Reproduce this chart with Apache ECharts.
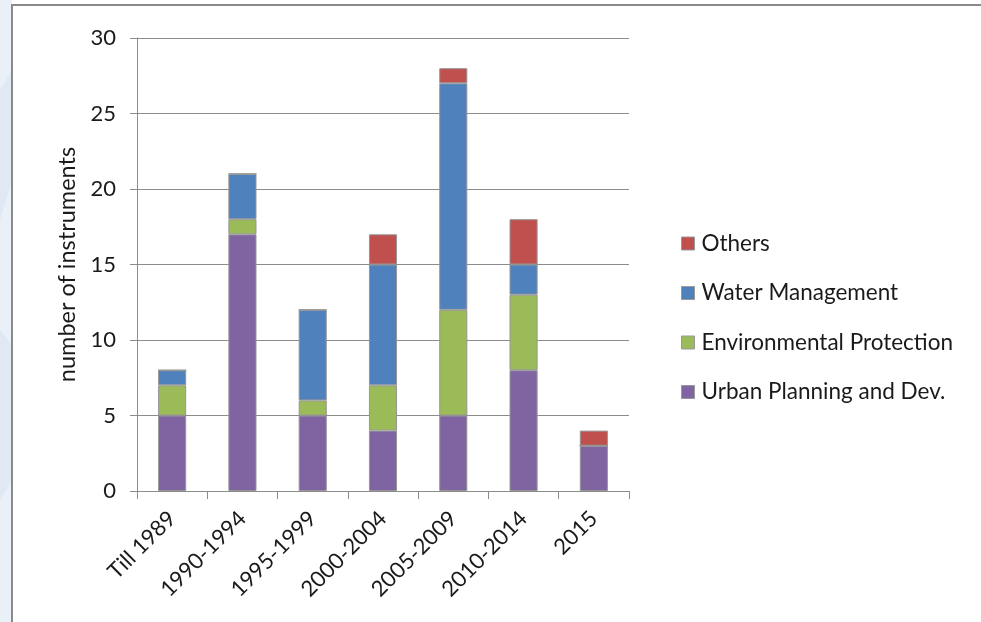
<!DOCTYPE html>
<html>
<head>
<meta charset="utf-8">
<script src="https://cdn.jsdelivr.net/npm/echarts@6/dist/echarts.min.js"></script>
<style>
  html, body { margin: 0; padding: 0; background: #fff; }
  #chart { width: 981px; height: 622px; }
</style>
</head>
<body>
<div id="chart"></div>
<script>
// Periods on the category axis
const periods = ['Till 1989', '1990-1994', '1995-1999', '2000-2004', '2005-2009', '2010-2014', '2015'];

// Number of instruments per thematic area, stacked bottom to top
const urbanPlanning = [5, 17, 5, 4, 5, 8, 3];
const environmental = [2, 1, 1, 3, 7, 5, 0];
const waterManagement = [1, 3, 6, 8, 15, 2, 0];
const others = [0, 0, 0, 2, 1, 3, 1];

const seriesNames = ['Urban Planning and Dev.', 'Environmental Protection', 'Water Management', 'Others'];
const seriesColors = ['#8064a2', '#9bbb59', '#4f81bd', '#c0504d'];
const seriesData = [urbanPlanning, environmental, waterManagement, others];

const FONT = 'Lato';
const TEXT = '#1a1a1a';
const GRID_LINE = '#8c8c8c';

const chart = echarts.init(document.getElementById('chart'), null, { renderer: 'canvas' });

chart.setOption({
  backgroundColor: '#ffffff',
  animation: false,
  textStyle: { fontFamily: FONT },
  graphic: [
    // soft tinted strip along the left margin
    { type: 'polygon', silent: true, z: -10,
      shape: { points: [[0, 0], [12, 0], [12, 622], [0, 622]] },
      style: { fill: '#e9f0f8' } },
    { type: 'polygon', silent: true, z: -9,
      shape: { points: [[0, 90], [12, 70], [12, 180], [0, 220]] },
      style: { fill: '#dfe8f3' } },
    { type: 'polygon', silent: true, z: -9,
      shape: { points: [[0, 330], [12, 345], [12, 480], [0, 500]] },
      style: { fill: '#dfe8f3' } },
    // frame lines
    { type: 'line', silent: true, z: 10,
      shape: { x1: 12, y1: 5, x2: 981, y2: 5 },
      style: { stroke: '#8a8a8a', lineWidth: 2 } },
    { type: 'line', silent: true, z: 10,
      shape: { x1: 12, y1: 4, x2: 12, y2: 622 },
      style: { stroke: '#8a8a8a', lineWidth: 2 } }
  ],
  legend: {
    orient: 'vertical',
    left: 676,
    top: 227,
    itemWidth: 13,
    itemHeight: 13,
    itemGap: 26.5,
    icon: 'rect',
    data: ['Others', 'Water Management', 'Environmental Protection', 'Urban Planning and Dev.'],
    textStyle: { fontFamily: FONT, fontSize: 22.5, color: TEXT, padding: [0, 0, 0, 2] },
    itemStyle: { borderColor: '#999', borderWidth: 1 }
  },
  grid: { left: 137, right: 352, top: 38, bottom: 131, containLabel: false },
  xAxis: {
    type: 'category',
    data: periods,
    boundaryGap: true,
    axisLine: { lineStyle: { color: GRID_LINE, width: 1 } },
    axisTick: { show: true, alignWithLabel: false, length: 8, lineStyle: { color: GRID_LINE } },
    axisLabel: { rotate: 45, margin: 24, fontFamily: FONT, fontSize: 22, color: TEXT, interval: 0 }
  },
  yAxis: {
    type: 'value',
    min: 0,
    max: 30,
    interval: 5,
    name: 'number of instruments',
    nameLocation: 'middle',
    nameGap: 58,
    nameTextStyle: { fontFamily: FONT, fontSize: 23.5, color: TEXT },
    axisLine: { show: true, lineStyle: { color: GRID_LINE, width: 1 } },
    axisTick: { show: true, length: 7, lineStyle: { color: GRID_LINE } },
    axisLabel: { margin: 21, fontFamily: FONT, fontSize: 22, color: TEXT },
    splitLine: { show: true, lineStyle: { color: GRID_LINE, width: 1 } }
  },
  series: seriesNames.map((name, i) => ({
    name,
    type: 'bar',
    stack: 'total',
    barWidth: '40%',
    data: seriesData[i],
    itemStyle: { color: seriesColors[i], borderColor: '#969696', borderWidth: 1 }
  }))
});
</script>
</body>
</html>
